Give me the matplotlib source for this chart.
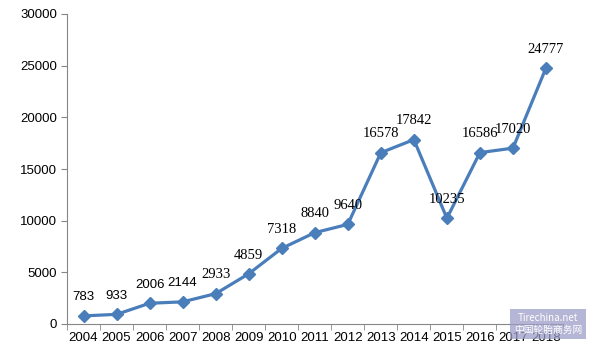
import matplotlib.pyplot as plt
import numpy as np

years = ["2004", "2005", "2006", "2007", "2008", "2009", "2010", "2011",
         "2012", "2013", "2014", "2015", "2016", "2017", "2018"]
values = [783, 933, 2006, 2144, 2933, 4859, 7318, 8840,
          9640, 16578, 17842, 10235, 16586, 17020, 24777]
y_ticks = [0, 5000, 10000, 15000, 20000, 25000, 30000]


def main():
    fig = plt.figure(figsize=(5.99, 3.54), dpi=100)
    ax = fig.add_axes([67 / 599, 30 / 354, (562.5 - 67) / 599, 310 / 354])

    x = np.arange(len(years))
    color = "#4A7EBB"
    ax.plot(x, values, color=color, lw=2.3, marker="D", markersize=6.5,
            markerfacecolor=color, markeredgecolor=color)

    for i, v in enumerate(values):
        fam = "Liberation Sans" if i < 4 else "Liberation Serif"
        size = 9.5 if i < 4 else 10.5
        ax.annotate(str(v), (i, v), xytext=(0, 13.5), textcoords="offset points",
                    ha="center", va="center", fontsize=size, family=fam,
                    color="black")

    ax.set_xlim(-0.5, len(years) - 0.5)
    ax.set_ylim(0, 30000)
    ax.set_yticks(y_ticks)
    ax.set_yticklabels([str(t) for t in y_ticks], family="Liberation Sans",
                       fontsize=9.5)
    ax.set_xticks(x)
    ax.set_xticklabels(years, family="Liberation Sans", fontsize=9.5)
    ax.set_xticks(np.arange(-0.5, len(years)), minor=True)
    ax.tick_params(axis="x", which="major", length=0, pad=6)
    ax.tick_params(axis="x", which="minor", length=4, color="#868686",
                   direction="out")
    ax.tick_params(axis="y", length=4, color="#868686", direction="out", pad=3)

    for s in ["top", "right"]:
        ax.spines[s].set_visible(False)
    for s in ["left", "bottom"]:
        ax.spines[s].set_color("#868686")
        ax.spines[s].set_linewidth(0.8)

    # watermark box
    fig.text(0.915, 0.085, "Tirechina.net\n中国轮胎商务网", ha="center",
             va="center", fontsize=7, color="white",
             family=["Noto Sans CJK SC", "DejaVu Sans"],
             bbox=dict(boxstyle="square,pad=0.4", fc="#9C9CC8", ec="none",
                       alpha=0.75))

    fig.savefig("out.png", dpi=100)


if __name__ == "__main__":
    main()
